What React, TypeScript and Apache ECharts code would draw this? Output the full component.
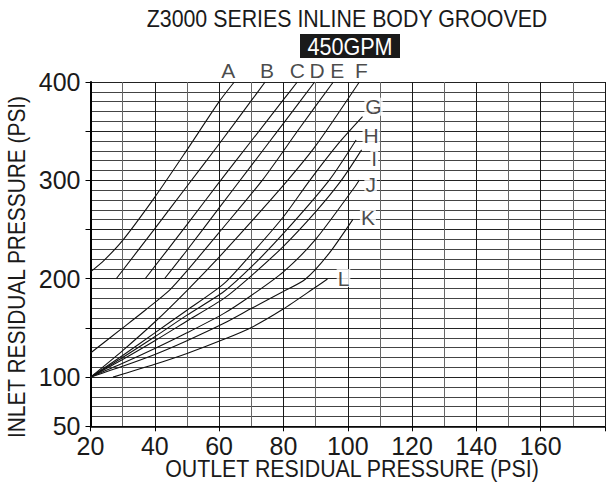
import React, { useEffect, useRef } from "react";
import * as echarts from "echarts";

const curveNames = ["A", "B", "C", "D", "E", "F", "G", "H", "I", "J", "K", "L"];
const curveA = [[20, 207], [24.3, 219], [30, 239], [40, 283], [50, 331], [60, 380], [64.7, 400]];
const curveB = [[28, 200], [40, 251], [50, 294], [60, 337], [70, 381], [74.3, 400]];
const curveC = [[37, 200], [50, 255], [60, 298], [70, 340], [80, 382], [84.3, 400]];
const curveD = [[43, 200], [50, 229], [60, 272], [70, 315], [80, 358], [89.7, 400]];
const curveE = [[20, 124.5], [30, 150], [37, 168], [44.6, 188.5], [50, 208], [60, 247], [73.4, 300], [85, 353], [95.5, 400]];
const curveF = [[20, 100], [30, 127], [40, 156], [50, 188], [60, 222], [70, 258], [81.3, 300], [90, 335], [103.6, 400]];
const curveG = [[20, 100], [30, 122], [40, 145], [50, 168], [61.5, 195], [70, 225], [80, 263], [88.2, 300], [97, 337], [104.6, 364.7]];
const curveH = [[20, 100], [30, 120], [40, 141], [50, 163], [61.5, 187], [70, 212], [80, 246], [94.2, 300], [102.6, 341]];
const curveI = [[20, 100], [30, 118], [40, 137], [50, 157], [61.5, 180], [70, 203], [80, 233], [90, 268], [98, 300], [104.3, 331]];
const curveJ = [[20, 100], [30, 114], [40, 129], [50, 145], [61.5, 164.8], [70, 183], [80, 207], [90, 240], [102.1, 293], [103.6, 300.4]];
const curveK = [[20, 100], [30, 111], [40, 123], [50, 137], [61.5, 154.7], [70.1, 169.9], [79.8, 186.8], [86.8, 199.5], [94, 225], [101.6, 260.4]];
const curveL = [[27, 100], [40, 113], [50, 124], [61.5, 138.4], [69.9, 150.2], [79.8, 168.9], [90.2, 191.9], [93.7, 199.7]];
const curves = [curveA, curveB, curveC, curveD, curveE, curveF, curveG, curveH, curveI, curveJ, curveK, curveL];
// label offsets (pixels) from each curve's last point
const labelOffsets = [[-6, -12], [2, -12], [0, -12], [2.5, -12], [4, -12], [2, -12], [11, -10], [15, -5], [12.7, 9], [11.3, 5], [15, -2], [16, -1]];

const xTickLabels = [20, 40, 60, 80, 100, 120, 140, 160];
const yTickLabels = [50, 100, 200, 300, 400];

const title = "Z3000 SERIES INLINE BODY GROOVED";
const subtitle = "450GPM";
const xName = "OUTLET RESIDUAL PRESSURE (PSI)";
const yName = "INLET RESIDUAL PRESSURE (PSI)";

const FONT = "Liberation Sans, Arial, Helvetica, sans-serif";

export default function App() {
  const ref = useRef<HTMLDivElement>(null);
  useEffect(() => {
    const chart = echarts.init(ref.current!, null, { renderer: "svg" });
    const lineSeries: any[] = curves.map((d, i) => ({
      type: "line",
      name: curveNames[i],
      data: d,
      showSymbol: false,
      smooth: 0.25,
      lineStyle: { color: "#111", width: 1.1 },
      silent: true,
      z: 5,
    }));
    const labelSeries = {
      type: "scatter",
      symbolSize: 0,
      silent: true,
      z: 6,
      data: curves.map((d, i) => ({
        value: d[d.length - 1],
        label: {
          show: true,
          position: "inside",
          formatter: curveNames[i],
          color: "#1a1a1a",
          fontFamily: FONT,
          fontSize: 21,
          lineHeight: 16,
          align: "center",
          verticalAlign: "middle",
          offset: labelOffsets[i],
          backgroundColor: i >= 6 ? "#fff" : "transparent",
          padding: [1, 1],
        },
      })),
    };
    chart.setOption({
      animation: false,
      grid: { left: 90.5, top: 82, width: 537.6, height: 344.3, containLabel: false },
      xAxis: {
        type: "value",
        min: 20,
        max: 180,
        interval: 20,
        axisLine: { show: true, lineStyle: { color: "#000", width: 1.5 } },
        axisTick: { show: true, length: 5, inside: false, lineStyle: { color: "#000" } },
        axisLabel: {
          color: "#1a1a1a",
          fontFamily: FONT,
          fontSize: 25,
          margin: 7,
          formatter: (v: number) => (xTickLabels.includes(v) ? String(v) : ""),
        },
        splitLine: { show: true, lineStyle: { color: "#1a1a1a", width: 1 } },
        minorTick: { show: false, splitNumber: 2 },
        minorSplitLine: { show: true, lineStyle: { color: "#666", width: 1 } },
      },
      yAxis: {
        type: "value",
        min: 50,
        max: 400,
        interval: 50,
        axisLine: { show: true, lineStyle: { color: "#000", width: 2 } },
        axisTick: { show: true, length: 5, lineStyle: { color: "#000" } },
        axisLabel: {
          color: "#1a1a1a",
          fontFamily: FONT,
          fontSize: 25,
          margin: 10,
          formatter: (v: number) => (yTickLabels.includes(v) ? String(v) : ""),
        },
        splitLine: { show: true, lineStyle: { color: "#222", width: 1 } },
        minorTick: { show: false, splitNumber: 5 },
        minorSplitLine: { show: true, lineStyle: { color: "#444", width: 1 } },
      },
      graphic: [
        {
          type: "text",
          x: 347,
          y: 19,
          scaleX: 0.89,
          style: { text: title, font: `24px ${FONT}`, fill: "#1a1a1a", align: "center", verticalAlign: "middle" },
        },
        { type: "rect", shape: { x: 300, y: 34, width: 100, height: 24 }, style: { fill: "#1a1a1a" } },
        {
          type: "text",
          x: 350,
          y: 46.5,
          scaleX: 0.9,
          style: { text: subtitle, font: `24px ${FONT}`, fill: "#fff", align: "center", verticalAlign: "middle" },
        },
        {
          type: "text",
          x: 352,
          y: 469,
          scaleX: 0.89,
          style: { text: xName, font: `24px ${FONT}`, fill: "#1a1a1a", align: "center", verticalAlign: "middle" },
        },
        {
          type: "text",
          x: 17,
          y: 267,
          rotation: Math.PI / 2,
          scaleX: 0.87,
          style: { text: yName, font: `24px ${FONT}`, fill: "#1a1a1a", align: "center", verticalAlign: "middle" },
        },
      ],
      series: [...lineSeries, labelSeries],
    });
    return () => chart.dispose();
  }, []);
  return <div ref={ref} style={{ position: "fixed", left: 0, top: 0, width: 608, height: 486, background: "#fff" }} />;
}
